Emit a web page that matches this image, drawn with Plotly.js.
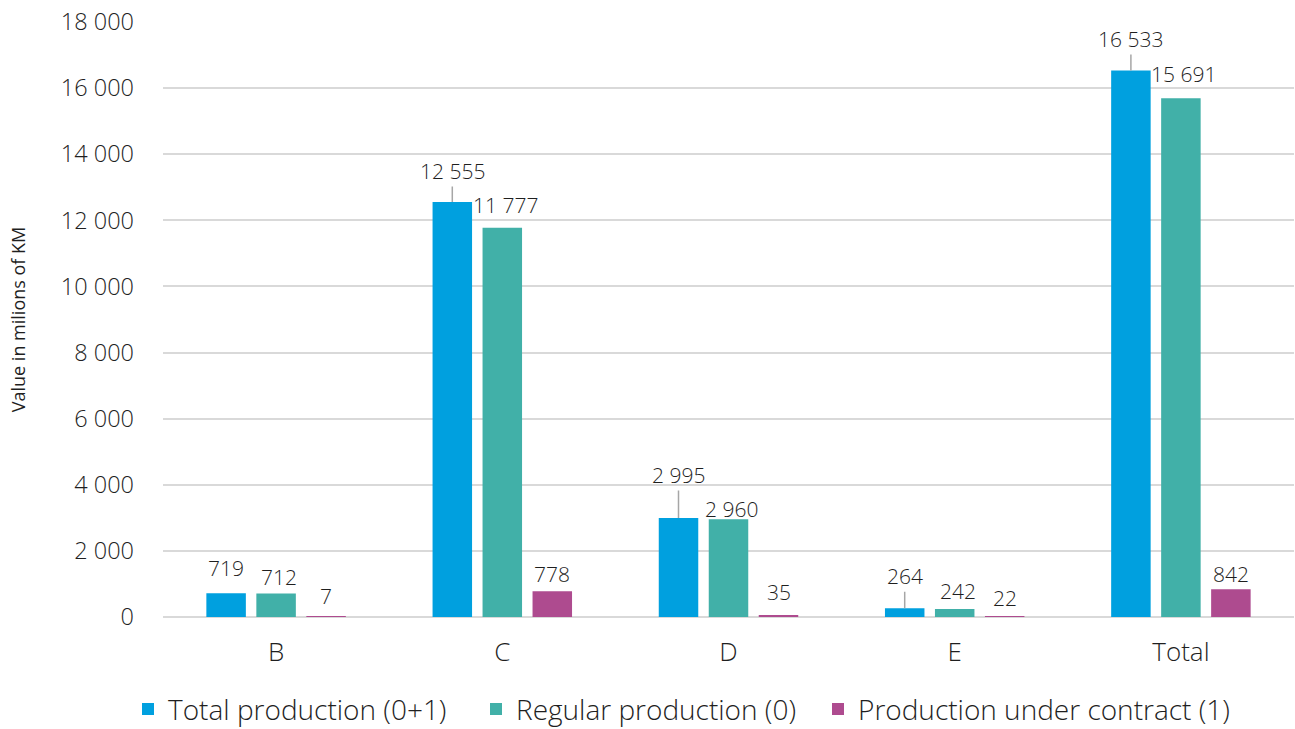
<!DOCTYPE html>
<html>
<head>
<meta charset="utf-8">
<script src="https://cdn.plot.ly/plotly-3.0.1.min.js"></script>
<style>
  html, body { margin: 0; padding: 0; background: #ffffff; }
  #chart { width: 1295px; height: 729px; }
</style>
</head>
<body>
<div id="chart"></div>
<script>
// ---- Data ----
const categories = ['B', 'C', 'D', 'E', 'Total'];
const totalProduction = [719, 12555, 2995, 264, 16533];
const regularProduction = [712, 11777, 2960, 242, 15691];
const contractProduction = [7, 778, 35, 22, 842];
const seriesNames = ['Total production (0+1)', 'Regular production (0)', 'Production under contract (1)'];
const yTickValues = [0, 2000, 4000, 6000, 8000, 10000, 12000, 14000, 16000, 18000];

// ---- Styles / label placement (pixels) ----
const seriesColors = ['#00A0DF', '#41B0A8', '#AE4B8F'];
const labelLift = [
  [25, 31, 43, 32, 31.5],
  [16, 23, 10.5, 18, 24.5],
  [21, 17, 23.5, 18, 15.5]
];
const labelLeader = [
  [false, true, true, true, true],
  [false, false, false, false, false],
  [false, false, false, false, false]
];
const legendIds = ['legend', 'legend2', 'legend3'];
const legendLeftPx = [128, 476, 818];

const seriesValues = [totalProduction, regularProduction, contractProduction];

function fmt(n) {
  return String(n).replace(/\B(?=(\d{3})+(?!\d))/g, '\u00A0');
}

const FONT = '"Open Sans", "Noto Sans", sans-serif';
const TEXT = '#1f1f1f';
const PLOT_L = 163, PLOT_W = 1295 - 163 - 1;

const traces = seriesValues.map((vals, i) => ({
  type: 'bar',
  name: seriesNames[i],
  x: categories,
  y: vals,
  legend: legendIds[i],
  marker: { color: seriesColors[i], line: { width: 0 } },
  hoverinfo: 'x+y+name'
}));

const annotations = [];
seriesValues.forEach((vals, i) => {
  vals.forEach((v, j) => {
    const lift = labelLift[i][j];
    if (labelLeader[i][j]) {
      annotations.push({
        x: categories[j], y: v, xref: 'x', yref: 'y',
        text: fmt(v),
        showarrow: true, arrowhead: 0, arrowwidth: 1.5, arrowcolor: '#A6A6A6',
        ax: 0, ay: -lift, standoff: 0,
        xshift: (i - 1) * 50,
        font: { family: FONT, size: 21, color: TEXT }
      });
    } else {
      annotations.push({
        x: categories[j], y: v, xref: 'x', yref: 'y',
        text: fmt(v),
        showarrow: false,
        xanchor: 'center', yanchor: 'middle',
        xshift: (i - 1) * 50 + (i === 1 ? 3 : 0),
        yshift: lift,
        font: { family: FONT, size: 21, color: TEXT }
      });
    }
  });
});

const layout = {
  width: 1295,
  height: 729,
  paper_bgcolor: '#ffffff',
  plot_bgcolor: '#ffffff',
  margin: { l: 163, r: 1, t: 22, b: 112, autoexpand: false },
  separators: '. ',
  font: { family: FONT, color: TEXT, weight: 300 },
  barmode: 'group',
  bargap: 0.337,
  bargroupgap: 0.21,
  showlegend: true,
  xaxis: {
    type: 'category',
    showgrid: false,
    showline: false,
    zeroline: false,
    ticks: '',
    tickfont: { family: FONT, size: 26, color: TEXT },
    ticklabelstandoff: 17
  },
  yaxis: {
    range: [0, 18000],
    tickvals: yTickValues,
    tickformat: ',d',
    showgrid: true,
    gridcolor: '#D9D9D9',
    gridwidth: 1.5,
    zeroline: true,
    zerolinecolor: '#D9D9D9',
    zerolinewidth: 1.5,
    showline: false,
    ticks: '',
    tickfont: { family: FONT, size: 23.5, color: TEXT },
    ticklabelstandoff: 28,
    title: {
      text: 'Value in milions of KM',
      font: { family: FONT, size: 18, color: TEXT, weight: 400 },
      standoff: 30
    }
  },
  annotations: annotations
};

legendIds.forEach((id, i) => {
  layout[id] = {
    orientation: 'h',
    x: (legendLeftPx[i] - PLOT_L) / PLOT_W, xanchor: 'left',
    y: -0.155, yanchor: 'middle',
    font: { family: FONT, size: 28, color: TEXT },
    itemsizing: 'constant',
    bgcolor: 'rgba(0,0,0,0)',
    maxheight: 300
  };
});

Plotly.newPlot('chart', traces, layout, { displayModeBar: false, responsive: false });
</script>
</body>
</html>
